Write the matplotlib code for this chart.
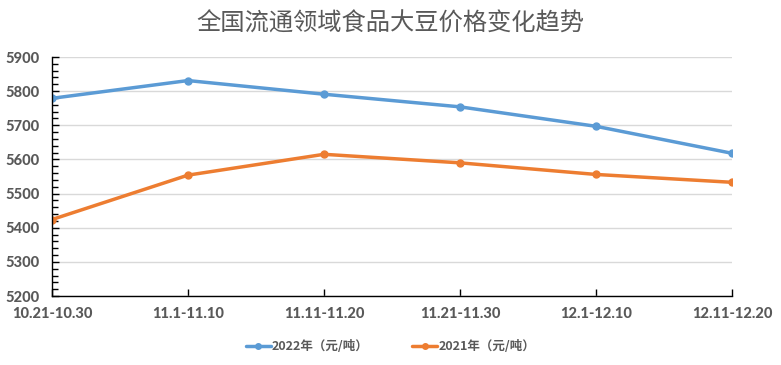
import matplotlib
matplotlib.use("Agg")
import matplotlib.pyplot as plt
from matplotlib import ticker

# Data
periods = ["10.21-10.30", "11.1-11.10", "11.11-11.20", "11.21-11.30", "12.1-12.10", "12.11-12.20"]
price_2022 = [5779, 5831, 5791, 5754, 5697, 5618]
price_2021 = [5424, 5554, 5615, 5590, 5556, 5533]
labels = ["2022年（元/吨）", "2021年（元/吨）"]
COLORS = ["#5B9BD5", "#ED7D31"]
TEXT = "#595959"

plt.rcParams["font.family"] = ["Lato", "Noto Sans CJK SC", "DejaVu Sans"]

fig = plt.figure(figsize=(7.81, 3.65), dpi=100)
ax = fig.add_axes([52 / 781, 1 - 296 / 365, 680 / 781, 239 / 365])

x = list(range(len(periods)))
for vals, color, label in zip([price_2022, price_2021], COLORS, labels):
    ax.plot(x, vals, color=color, lw=2.5, marker="o", ms=5, label=label,
            solid_capstyle="round")

ax.set_xlim(0, len(periods) - 1)
ax.set_ylim(5200, 5900)
ax.set_xticks(x)
ax.set_xticklabels(periods)
ax.yaxis.set_major_locator(ticker.MultipleLocator(100))
ax.yaxis.set_minor_locator(ticker.MultipleLocator(20))

ax.grid(True, axis="y", color="#D9D9D9", lw=1)
ax.set_axisbelow(True)
for s in ["top", "right"]:
    ax.spines[s].set_visible(False)
for s in ["left", "bottom"]:
    ax.spines[s].set_color("black")
    ax.spines[s].set_linewidth(1)

ax.tick_params(axis="both", which="major", direction="in", length=5, width=1,
               labelsize=10.5, labelcolor=TEXT)
ax.tick_params(axis="y", which="minor", direction="in", length=4, width=1)
ax.tick_params(axis="x", pad=8)
ax.tick_params(axis="y", pad=9)
for t in ax.get_xticklabels() + ax.get_yticklabels():
    t.set_fontweight("black")

fig.text(0.5, 0.935, "全国流通领域食品大豆价格变化趋势", ha="center", va="center",
         fontsize=17.5, color=TEXT, family=["Noto Sans CJK SC"])

leg = fig.legend(loc="center", bbox_to_anchor=(0.5, 0.05), ncol=2, frameon=False,
                 prop={"family": ["Noto Sans CJK SC"], "size": 9, "weight": "bold"},
                 handlelength=2.0, columnspacing=3.5, handletextpad=0.1,
                 markerscale=0.8)
for t in leg.get_texts():
    t.set_color(TEXT)

fig.savefig("out.png", dpi=100)
